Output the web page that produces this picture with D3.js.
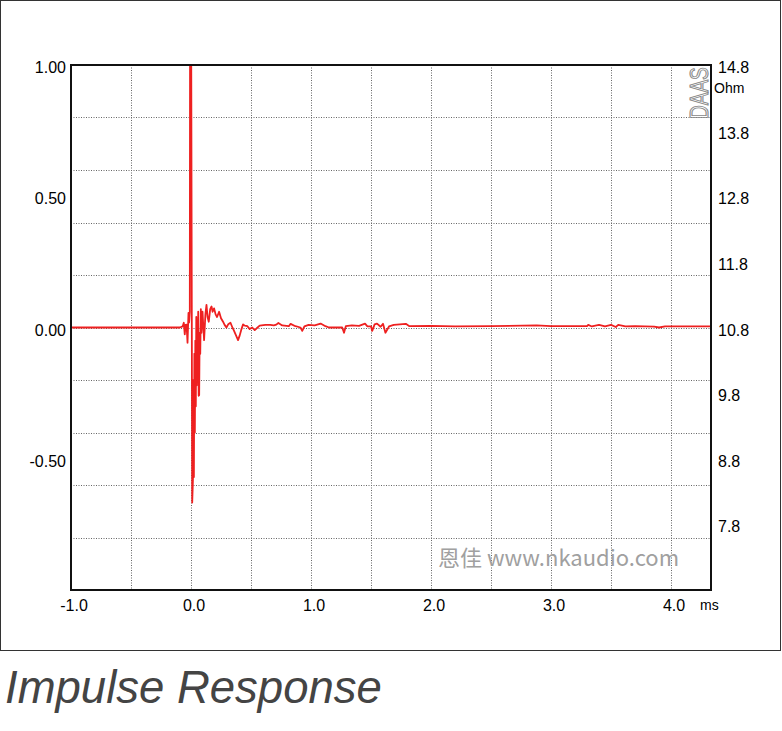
<!DOCTYPE html>
<html><head><meta charset="utf-8">
<script src="https://cdn.jsdelivr.net/npm/d3@7"></script>
<style>body{margin:0;background:#fff;}svg{display:block;font-family:"Liberation Sans",Arial,sans-serif;}</style>
</head><body>
<svg id="chart" width="782" height="731"></svg>
<script>
// ---- data ----
const timeMs = [-1.000,-0.500,-0.150,-0.093,-0.070,-0.060,-0.052,-0.045,-0.037,-0.029,-0.021,-0.016,-0.010,-0.008,0.002,0.010,0.016,0.020,0.024,0.028,0.032,0.036,0.040,0.044,0.048,0.052,0.056,0.060,0.064,0.068,0.072,0.077,0.082,0.087,0.096,0.103,0.109,0.120,0.129,0.138,0.148,0.160,0.171,0.180,0.192,0.205,0.217,0.234,0.250,0.267,0.280,0.295,0.310,0.329,0.345,0.356,0.375,0.392,0.406,0.420,0.434,0.448,0.470,0.489,0.510,0.531,0.550,0.572,0.620,0.660,0.690,0.711,0.728,0.760,0.815,0.830,0.870,0.912,0.927,0.945,0.980,1.030,1.080,1.120,1.150,1.260,1.275,1.290,1.340,1.400,1.450,1.470,1.500,1.510,1.530,1.550,1.580,1.600,1.620,1.650,1.690,1.790,1.820,2.000,2.200,2.500,2.880,3.000,3.300,3.310,3.340,3.400,3.450,3.500,3.540,3.560,3.620,3.700,3.860,3.900,3.950,4.333];
const amplitude = [0.000,0.000,0.000,0.000,0.004,0.018,-0.026,0.010,0.011,-0.058,0.056,0.019,0.060,1.000,1.000,-0.667,-0.580,-0.200,-0.570,-0.100,-0.400,-0.050,-0.300,0.040,-0.220,0.020,-0.150,0.060,-0.260,-0.258,-0.020,-0.100,0.070,-0.020,0.060,0.000,-0.048,0.050,0.086,0.040,0.022,0.070,0.080,0.060,0.073,0.050,0.040,0.060,0.035,0.022,0.010,0.000,0.012,0.018,0.000,-0.010,-0.030,-0.048,-0.030,-0.007,0.012,0.007,0.005,-0.006,0.000,-0.010,-0.002,0.007,0.010,0.010,0.008,0.011,0.017,0.008,0.005,0.014,0.005,0.000,-0.013,0.004,0.010,0.008,0.015,0.005,0.000,0.000,-0.020,0.005,0.008,0.006,0.015,0.004,0.004,-0.013,0.012,0.015,0.003,0.014,-0.020,0.004,0.010,0.014,0.005,0.006,0.004,0.005,0.008,0.005,0.005,0.010,0.004,0.010,0.004,0.010,0.002,0.010,0.004,0.005,0.003,0.000,0.004,0.004];
const xTickLabels = [-1.0, 0.0, 1.0, 2.0, 3.0, 4.0];
const xGrid = [-0.5, 0.0, 0.5, 1.0, 1.5, 2.0, 2.5, 3.0, 3.5, 4.0];
const yTickLabels = [1.00, 0.50, 0.00, -0.50];
const yGrid = [0.8, 0.6, 0.4, 0.2, 0.0, -0.2, -0.4, -0.6, -0.8];
const ohmTickLabels = [14.8, 13.8, 12.8, 11.8, 10.8, 9.8, 8.8, 7.8];

// ---- layout ----
const svg = d3.select("#chart");
const L = 71, R = 711, T = 65, B = 590;
const x = d3.scaleLinear().domain([-1, 4.333]).range([L, R]);
const y = d3.scaleLinear().domain([-1, 1]).range([B, T]);
const yOhm = d3.scaleLinear().domain([6.8, 14.8]).range([B, T]);

// outer frame
svg.append("rect").attr("x",0.5).attr("y",0.5).attr("width",780).attr("height",650)
  .attr("fill","none").attr("stroke","#333").attr("stroke-width",1);

// grid
const g = svg.append("g");
g.selectAll("line.vx").data(xGrid).join("line")
  .attr("x1",d=>Math.round(x(d))+0.5).attr("x2",d=>Math.round(x(d))+0.5).attr("y1",T).attr("y2",B)
  .attr("stroke","#666").attr("stroke-dasharray","1,1.5");
g.selectAll("line.hy").data(yGrid).join("line")
  .attr("x1",L).attr("x2",R).attr("y1",d=>Math.round(y(d))+0.5).attr("y2",d=>Math.round(y(d))+0.5)
  .attr("stroke","#666").attr("stroke-dasharray","1,1.5");

// watermark
svg.append("text").attr("x",438).attr("y",566).attr("fill","#a0a0a0")
  .style("font-family","'Noto Sans CJK SC','Open Sans',sans-serif").style("font-size","22px")
  .text("恩佳 www.nkaudio.com");

// DAAS
svg.append("text").attr("transform","translate(708,119) rotate(-90) scale(1,1.35)")
  .attr("fill","none").attr("stroke","#888").attr("stroke-width",0.8)
  .style("font-size","19px").text("DAAS");

// trace
const line = d3.line().x((d,i)=>x(timeMs[i])).y((d,i)=>y(amplitude[i]));
svg.append("path").datum(amplitude).attr("d",line)
  .attr("fill","none").attr("stroke","#ee2020").attr("stroke-width",1.8).attr("stroke-linejoin","round");

// frame
svg.append("rect").attr("x",L).attr("y",T).attr("width",R-L).attr("height",B-T)
  .attr("fill","none").attr("stroke","#111").attr("stroke-width",2);

// axes labels
svg.selectAll("text.yl").data(yTickLabels).join("text")
  .attr("x",66).attr("y",d=>y(d)+8).attr("text-anchor","end")
  .style("font-size","16px").attr("fill","#000").text(d=>d.toFixed(2));
svg.selectAll("text.yr").data(ohmTickLabels).join("text")
  .attr("x",718).attr("y",d=>yOhm(d)+8).attr("text-anchor","start")
  .style("font-size","16px").attr("fill","#000").text(d=>d.toFixed(1));
svg.append("text").attr("x",714).attr("y",93).style("font-size","14px").text("Ohm");
svg.selectAll("text.xl").data(xTickLabels).join("text")
  .attr("x",d=>x(d)+3).attr("y",611).attr("text-anchor","middle")
  .style("font-size","16px").attr("fill","#000").text(d=>d.toFixed(1));
svg.append("text").attr("x",700).attr("y",610).style("font-size","14px").text("ms");

// title
svg.append("text").attr("x",5).attr("y",703).attr("fill","#444")
  .style("font-size","45.5px").style("font-style","italic").text("Impulse Response");
</script>
</body></html>
